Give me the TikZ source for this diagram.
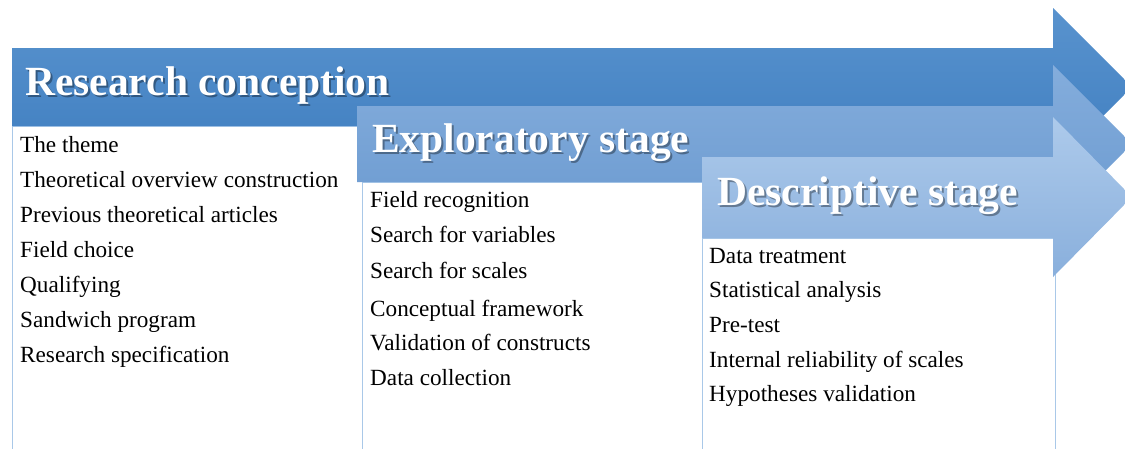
\documentclass[tikz,border=0pt]{standalone}
\usepackage{fontspec}
\setmainfont{Liberation Serif}
\begin{document}
\begin{tikzpicture}[x=1pt,y=-1pt,
  itembox/.style={fill=white,draw=boxline,line width=0.8pt},
  titletext/.style={anchor=base west,inner sep=0pt,text=white,font=\bfseries\fontsize{41.5}{41.5}\selectfont},
  titleshadow/.style={anchor=base west,inner sep=0pt,text=black,opacity=0.35,font=\bfseries\fontsize{41.5}{41.5}\selectfont},
  itemtext/.style={anchor=base west,inner sep=0pt,text=black,font=\fontsize{23.2}{23.2}\selectfont}]
\definecolor{boxline}{HTML}{A9C8E8}
\definecolor{aonetop}{HTML}{5993CE}
\definecolor{aonebot}{HTML}{3F7EC0}
\definecolor{atwotop}{HTML}{84ADDC}
\definecolor{atwobot}{HTML}{6B9AD0}
\definecolor{athreetop}{HTML}{ADCAEB}
\definecolor{athreebot}{HTML}{89AFDC}
\useasboundingbox (0,0) rectangle (1125,448);
\clip (0,0) rectangle (1125,448);
\fill[white] (0,0) rectangle (1125,448);

% item panels
\draw[itembox] (12,126) rectangle (362,460);
\draw[itembox] (362,182) rectangle (702,460);
\draw[itembox] (702,238) rectangle (1055,460);

% stage arrows
\shade[top color=aonetop,bottom color=aonebot]
  (12,48) -- (1053,48) -- (1053,8) -- (1132,87) -- (1053,166) -- (1053,126) -- (12,126) -- cycle;
\shade[top color=atwotop,bottom color=atwobot]
  (357,106) -- (1053,106) -- (1053,65) -- (1132,144) -- (1053,223) -- (1053,182) -- (357,182) -- cycle;
\shade[top color=athreetop,bottom color=athreebot]
  (702,157) -- (1053,157) -- (1053,117) -- (1132,197) -- (1053,277) -- (1053,238) -- (702,238) -- cycle;

% stage titles
\node[titleshadow] at (27,97) {Research conception};
\node[titletext] (t1) at (25,95) {Research conception};
\node[titleshadow] at (374,154) {Exploratory stage};
\node[titletext] (t2) at (372,152) {Exploratory stage};
\node[titleshadow] at (719,207) {Descriptive stage};
\node[titletext] (t3) at (717,205) {Descriptive stage};

% research conception items
\node[itemtext] (a1) at (20,152) {The theme};
\node[itemtext] (a2) at (20,187) {Theoretical overview construction};
\node[itemtext] (a3) at (20,222) {Previous theoretical articles};
\node[itemtext] (a4) at (20,257) {Field choice};
\node[itemtext] (a5) at (20,292) {Qualifying};
\node[itemtext] (a6) at (20,327) {Sandwich program};
\node[itemtext] (a7) at (20,362) {Research specification};

% exploratory stage items
\node[itemtext] (b1) at (370,207) {Field recognition};
\node[itemtext] (b2) at (370,242) {Search for variables};
\node[itemtext] (b3) at (370,278) {Search for scales};
\node[itemtext] (b4) at (370,316) {Conceptual framework};
\node[itemtext] (b5) at (370,350) {Validation of constructs};
\node[itemtext] (b6) at (370,385) {Data collection};

% descriptive stage items
\node[itemtext] (c1) at (709,263) {Data treatment};
\node[itemtext] (c2) at (709,297) {Statistical analysis};
\node[itemtext] (c3) at (709,332) {Pre-test};
\node[itemtext] (c4) at (709,367) {Internal reliability of scales};
\node[itemtext] (c5) at (709,401) {Hypotheses validation};
\end{tikzpicture}
\end{document}
